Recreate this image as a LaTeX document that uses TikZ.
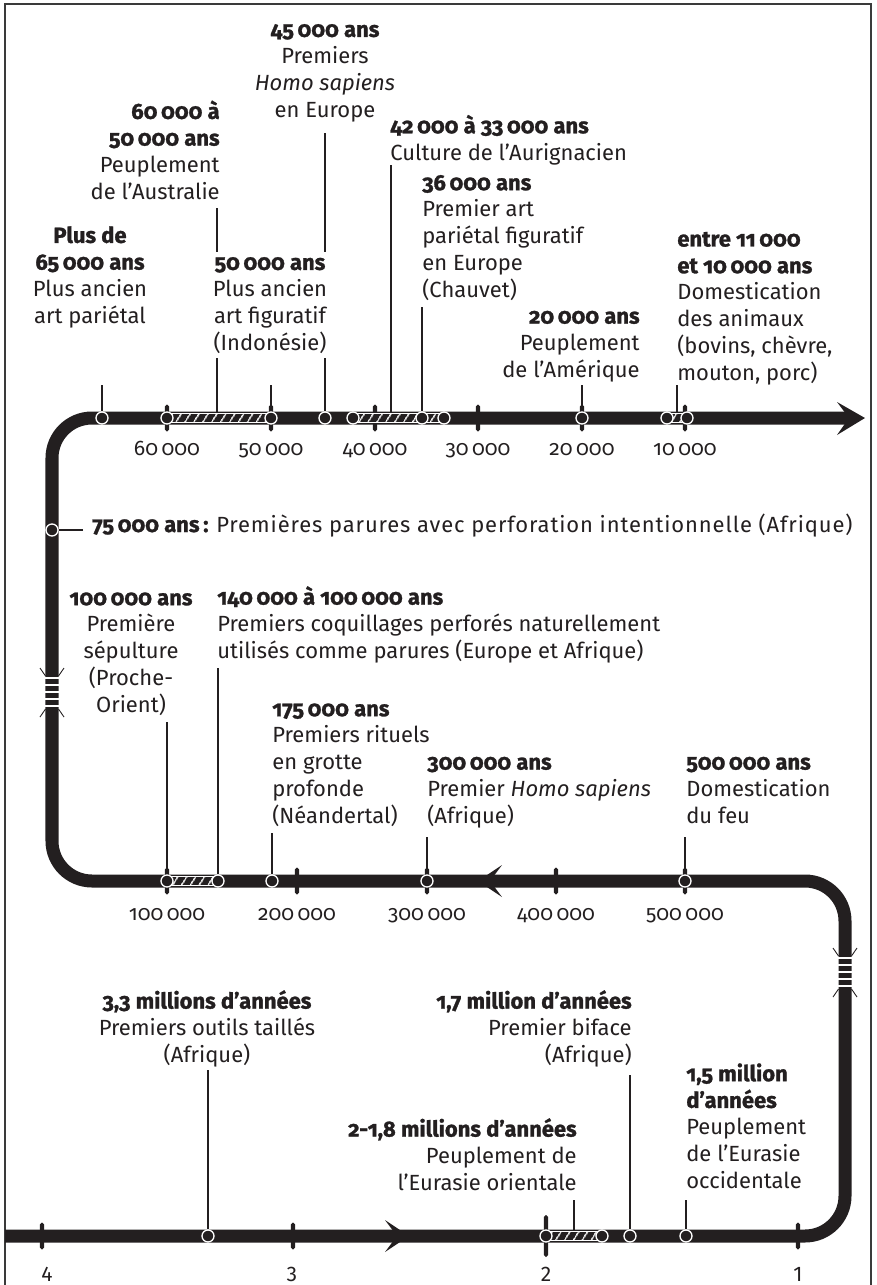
\documentclass[tikz,border=0pt]{standalone}
\usepackage{fontspec}
\setmainfont{Fira Sans}[Numbers=OldStyle,BoldFeatures={FakeBold=1.2}]
\usetikzlibrary{calc,backgrounds,patterns.meta}
\definecolor{ink}{HTML}{231F20}
\definecolor{framegray}{HTML}{3A3A3A}
\tikzset{
  frame/.style={draw=framegray,line width=1.4pt},
  track/.style={draw=ink,line width=7.4pt,rounded corners=0.8cm},
  event/.style={circle,fill=ink,draw=white,line width=0.75pt,minimum size=0.24cm,inner sep=0pt},
  tickmark/.style={rectangle,fill=ink,minimum width=2.3pt,minimum height=0.54cm,inner sep=0pt,rounded corners=1.1pt},
  ticklab/.style={anchor=base,inner sep=0pt,text=ink,font=\fontsize{12}{15}\selectfont},
  leader/.style={draw=ink,line width=0.6pt},
  lab/.style={fill=white,inner sep=0pt,text=ink,font=\fontsize{12.5}{15.2}\selectfont},
  hatch/.style={draw=white,line width=0.5pt,pattern={Lines[angle=58,distance=4pt,line width=0.7pt]},pattern color=white},
}
\begin{document}
\begin{tikzpicture}[x=0.02cm,y=-0.02cm]
\useasboundingbox (0,0) rectangle (876,1285);
% cadre
\draw[frame] (5,1290) -- (5,4) -- (871,4) -- (871,1290);
% la voie du temps
\draw[track] (5,1236) -- (845,1236) -- (845,881) -- (52,881) -- (52,418) -- (850,418);
\fill[ink] (837,402) -- (865,418) -- (837,435) -- (849,418) -- cycle;
\fill[ink] (502,865) -- (478,881) -- (502,897) -- (490,881) -- cycle;
\fill[ink] (385,1220) -- (409,1236) -- (385,1252) -- (397,1236) -- cycle;
% coupures d'echelle
\foreach \bx/\by in {52/668,845/948}{
  \foreach \d in {10,17,24,31,38} \draw[white,line width=1.3pt] (\bx-7,\by+\d) -- (\bx+7,\by+\d);
  \draw[ink,line width=0.5pt] (\bx-6.5,\by+8) -- (\bx-12,\by) (\bx+6.5,\by+8) -- (\bx+12,\by)
    (\bx-6.5,\by+41) -- (\bx-12,\by+49) (\bx+6.5,\by+41) -- (\bx+12,\by+49);
}
% graduations
\node[tickmark] (t60) at (167,418) {};
\node[tickmark] (t50) at (271,418) {};
\node[tickmark] (t40) at (375,418) {};
\node[tickmark] (t30) at (478,418) {};
\node[tickmark] (t20) at (582,418) {};
\node[tickmark] (t10) at (685,418) {};
\node[ticklab] (n60) at (167,455) {60\,000};
\node[ticklab] (n50) at (271,455) {50\,000};
\node[ticklab] (n40) at (375,455) {40\,000};
\node[ticklab] (n30) at (478,455) {30\,000};
\node[ticklab] (n20) at (582,455) {20\,000};
\node[ticklab] (n10) at (685,455) {10\,000};
\node[tickmark] (t100) at (167,881) {};
\node[tickmark] (t200) at (297,881) {};
\node[tickmark] (t300) at (427,881) {};
\node[tickmark] (t400) at (556,881) {};
\node[tickmark] (t500) at (685,881) {};
\node[ticklab] (n100) at (167,920) {100\,000};
\node[ticklab] (n200) at (297,920) {200\,000};
\node[ticklab] (n300) at (427,920) {300\,000};
\node[ticklab] (n400) at (556,920) {400\,000};
\node[ticklab] (n500) at (685,920) {500\,000};
\node[tickmark] (t4) at (42,1236) {};
\node[tickmark] (t3) at (293,1236) {};
\node[tickmark,minimum height=0.84cm] (t2) at (546,1236) {};
\node[tickmark] (t1) at (798,1236) {};
\node[ticklab,font=\fontsize{12}{15}\selectfont\addfontfeature{Numbers=Lining}] (n4) at (47,1281) {4};
\node[ticklab,font=\fontsize{12}{15}\selectfont\addfontfeature{Numbers=Lining}] (n3) at (292,1281) {3};
\node[ticklab,font=\fontsize{12}{15}\selectfont\addfontfeature{Numbers=Lining}] (n2) at (546,1281) {2};
\node[ticklab,font=\fontsize{12}{15}\selectfont\addfontfeature{Numbers=Lining}] (n1) at (798,1281) {1};
% periodes
\path[hatch] (167,413.5) rectangle (271,422.5);
\path[hatch] (353,413.5) rectangle (444,422.5);
\path[hatch] (667,413.5) rectangle (687,422.5);
\path[hatch] (167,876.5) rectangle (218,885.5);
\path[hatch] (546,1231.5) rectangle (602,1240.5);
% evenements
\node[event] (c65) at (102,418) {};
\node[event] (c60) at (167,418) {};
\node[event] (c50) at (271,418) {};
\node[event] (c45) at (325,418) {};
\node[event] (c42) at (353,418) {};
\node[event] (c36) at (422,418) {};
\node[event] (c33) at (444,418) {};
\node[event] (c20) at (582,418) {};
\node[event] (c11) at (667,418) {};
\node[event] (c10) at (687,418) {};
\node[event] (c75) at (52,530) {};
\node[event] (c100) at (167,881) {};
\node[event] (c140) at (218,881) {};
\node[event] (c175) at (272,881) {};
\node[event] (c300) at (427,881) {};
\node[event] (c500) at (685,881) {};
\node[event] (cm33) at (208,1236) {};
\node[event] (cm20) at (546,1236) {};
\node[event] (cm18) at (602,1236) {};
\node[event] (cm17) at (630,1236) {};
\node[event] (cm15) at (686,1236) {};
% pieds et tetes des traits de rappel
\coordinate (h60) at (217,418);
\coordinate (h42) at (391,418);
\coordinate (h11) at (677,418);
\coordinate (hm20) at (574,1236);
\coordinate (p65) at (102,385);
\coordinate (p60) at (217,208);
\coordinate (p45) at (325,133);
\coordinate (p50) at (271,385);
\coordinate (p42) at (391,165);
\coordinate (p36) at (422,307);
\coordinate (p20) at (582,385);
\coordinate (p11) at (677,385);
\coordinate (p75) at (83,530);
\coordinate (p100) at (167,722);
\coordinate (p140) at (218,668);
\coordinate (p175) at (272,833);
\coordinate (p300) at (427,837);
\coordinate (p500) at (685,837);
\coordinate (pm33) at (208,1070);
\coordinate (pm20) at (574,1200);
\coordinate (pm17) at (630,1075);
\coordinate (pm15) at (686,1200);
\begin{scope}[on background layer]
\draw[leader] (p65) -- (c65);
\draw[leader] (p60) -- (h60);
\draw[leader] (p45) -- (c45);
\draw[leader] (p50) -- (c50);
\draw[leader] (p42) -- (h42);
\draw[leader] (p36) -- (c36);
\draw[leader] (p20) -- (c20);
\draw[leader] (p11) -- (h11);
\draw[leader] (p75) -- (c75);
\draw[leader] (p100) -- (c100);
\draw[leader] (p140) -- (c140);
\draw[leader] (p175) -- (c175);
\draw[leader] (p300) -- (c300);
\draw[leader] (p500) -- (c500);
\draw[leader] (pm33) -- (cm33);
\draw[leader] (pm20) -- (hm20);
\draw[leader] (pm17) -- (cm17);
\draw[leader] (pm15) -- (cm15);
\end{scope}
% textes (ancres sur la ligne de base de la derniere ligne)
\node[lab,align=center,anchor=base] (l65) at (90,323) {\textbf{Plus de}\\\textbf{65\,000 ans}\\Plus ancien\\art pariétal};
\node[lab,align=right,anchor=base east] (l60) at (220,199) {\textbf{60\,000 à}\\\textbf{50\,000 ans}\\Peuplement\\de l’Australie};
\node[lab,align=center,anchor=base] (l45) at (325,117) {\textbf{45\,000 ans}\\Premiers\\\textit{Homo sapiens}\\en Europe};
\node[lab,align=center,anchor=base,inner sep=3pt] (l50) at (270,350) {\textbf{50\,000 ans}\\Plus ancien\\art figuratif\\(Indonésie)};
\node[lab,align=left,anchor=base west] (l42) at (390,160) {\textbf{42\,000 à 33\,000 ans}\\Culture de l’Aurignacien};
\node[lab,align=left,anchor=base west] (l36) at (422,297) {\textbf{36\,000 ans}\\Premier art\\pariétal figuratif\\en Europe\\(Chauvet)};
\node[lab,align=right,anchor=base east] (l20) at (640,377) {\textbf{20\,000 ans}\\Peuplement\\de l’Amérique};
\node[lab,align=left,anchor=base west] (l11) at (677,380) {\textbf{entre 11\,000}\\\textbf{et 10\,000 ans}\\Domestication\\des animaux\\(bovins, chèvre,\\mouton, porc)};
\node[lab,anchor=base west] (l75) at (92,532) {\textbf{75\,000 ans\,:} {\addfontfeature{LetterSpace=4}Premières parures avec perforation intentionnelle (Afrique)}};
\node[lab,align=center,anchor=base] (l100) at (131,712) {\textbf{100\,000 ans}\\Première\\sépulture\\(Proche-\\Orient)};
\node[lab,align=left,anchor=base west] (l140) at (217,658) {\textbf{140\,000 à 100\,000 ans}\\Premiers coquillages perforés naturellement\\utilisés comme parures (Europe et Afrique)};
\node[lab,align=left,anchor=base west] (l175) at (272,823) {\textbf{175\,000 ans}\\Premiers rituels\\en grotte\\profonde\\(Néandertal)};
\node[lab,align=left,anchor=base west] (l300) at (427,823) {\textbf{300\,000 ans}\\Premier \textit{Homo sapiens}\\(Afrique)};
\node[lab,align=left,anchor=base west] (l500) at (686,823) {\textbf{500\,000 ans}\\Domestication\\du feu};
\node[lab,align=center,anchor=base] (lm33) at (207,1062) {\textbf{3,3 millions d’années}\\Premiers outils taillés\\(Afrique)};
\node[lab,align=right,anchor=base east] (lm20) at (577,1190) {\textbf{2-1,8 millions d’années}\\Peuplement de\\l’Eurasie orientale};
\node[lab,align=right,anchor=base east] (lm17) at (632,1062) {\textbf{1,7 million d’années}\\Premier biface\\(Afrique)};
\node[lab,align=left,anchor=base west] (lm15) at (686,1188) {\textbf{1,5 million}\\\textbf{d’années}\\Peuplement\\de l’Eurasie\\occidentale};
\end{tikzpicture}
\end{document}
